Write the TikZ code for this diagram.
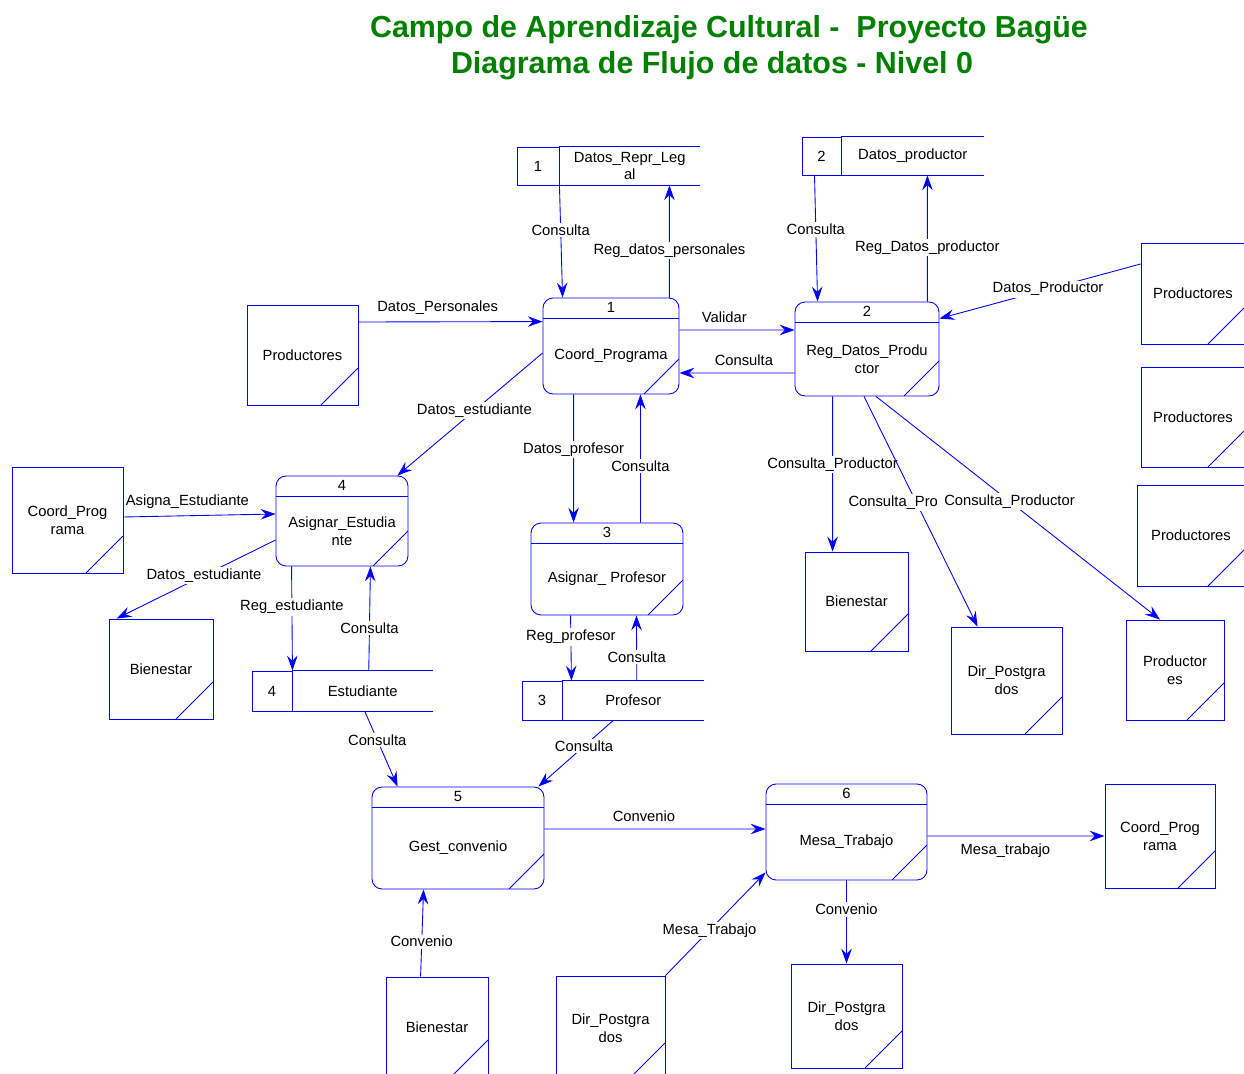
\documentclass[tikz,border=0pt]{standalone}
\usepackage{fontspec}
\setmainfont{Liberation Sans}
\usepackage{tikz}
\usetikzlibrary{arrows, arrows.meta, positioning}

\definecolor{titulo}{RGB}{0,128,0}
\definecolor{linea}{RGB}{0,0,255}

\tikzstyle{process} = [rectangle, rounded corners=0.2cm, draw=linea, line width=0.5pt, inner sep=0pt,
	path picture={\draw[linea, line width=0.5pt] ([yshift=-0.4cm]path picture bounding box.north west) -- ([yshift=-0.4cm]path picture bounding box.north east);
		\draw[linea, line width=0.5pt] ([xshift=-0.7cm]path picture bounding box.south east) -- ([yshift=0.7cm]path picture bounding box.south east);}]
\tikzstyle{entity} = [rectangle, draw=linea, line width=0.5pt, align=center, inner sep=0pt,
	path picture={\draw[linea, line width=0.5pt] ([xshift=-0.74cm]path picture bounding box.south east) -- ([yshift=0.74cm]path picture bounding box.south east);}]
\tikzstyle{storenum} = [rectangle, draw=linea, line width=0.5pt, inner sep=0pt]
\tikzstyle{store} = [rectangle, align=center, inner sep=0pt]
\tikzstyle{arrow} = [linea, line width=0.5pt, ->, >={Stealth[length=8.5pt, width=6pt, inset=3pt]}]
\tikzstyle{lbl} = [fill=white, inner sep=1pt, text=black]

\begin{document}
\begin{tikzpicture}[x=0.02cm, y=-0.02cm, font=\fontsize{8.4}{10.2}\selectfont]
	\useasboundingbox (0,0) rectangle (1244,1074);
	\clip (0,0) rectangle (1244,1074);

	% titulo
	\node (tit1) [font=\fontsize{17.3}{20}\selectfont\bfseries, text=titulo] at (729,30) {Campo de Aprendizaje Cultural - \ Proyecto Bagüe};
	\node (tit2) [font=\fontsize{17.3}{20}\selectfont\bfseries, text=titulo] at (712,66) {Diagrama de Flujo de datos - Nivel 0};

	% almacenes
	\node (ds1n) [storenum, minimum width=0.84cm, minimum height=0.76cm] at (538,166) {1};
	\node (ds1) [store, right=0cm of ds1n, minimum width=2.8cm, minimum height=0.76cm] {Datos\_Repr\_Leg\\al};
	\node (ds2n) [storenum, minimum width=0.78cm, minimum height=0.76cm] at (821.5,156) {2};
	\node (ds2) [store, right=0cm of ds2n, minimum width=2.84cm, minimum height=0.76cm] {Datos\_productor};
	\node (ds4n) [storenum, minimum width=0.8cm, minimum height=0.8cm] at (272,691) {4};
	\node (ds4) [store, right=0cm of ds4n, minimum width=2.8cm, minimum height=0.8cm] {Estudiante};
	\node (ds3n) [storenum, minimum width=0.8cm, minimum height=0.78cm] at (542,700.5) {3};
	\node (ds3) [store, right=0cm of ds3n, minimum width=2.82cm, minimum height=0.78cm] {Profesor};
	\foreach \s in {ds1,ds2,ds3,ds4}
		\draw[linea, line width=0.5pt] (\s.north west) -- (\s.north east) (\s.south west) -- (\s.south east);

	% procesos
	\node (p1) [process, minimum width=2.72cm, minimum height=1.92cm] at (611,346) {};
	\node (p1n) at ([yshift=-0.2cm]p1.north) {1};
	\node (p1t) [align=center] at ([yshift=-0.2cm]p1.center) {Coord\_Programa};
	\node (p2) [process, minimum width=2.88cm, minimum height=1.88cm] at (867,349) {};
	\node (p2n) at ([yshift=-0.2cm]p2.north) {2};
	\node (p2t) [align=center] at ([yshift=-0.2cm]p2.center) {Reg\_Datos\_Produ\\ctor};
	\node (p4) [process, minimum width=2.64cm, minimum height=1.8cm] at (342,521) {};
	\node (p4n) at ([yshift=-0.2cm]p4.north) {4};
	\node (p4t) [align=center] at ([yshift=-0.2cm]p4.center) {Asignar\_Estudia\\nte};
	\node (p3) [process, minimum width=3.04cm, minimum height=1.84cm] at (607,569) {};
	\node (p3n) at ([yshift=-0.2cm]p3.north) {3};
	\node (p3t) [align=center] at ([yshift=-0.2cm]p3.center) {Asignar\_ Profesor};
	\node (p5) [process, minimum width=3.44cm, minimum height=2.04cm] at (458,838) {};
	\node (p5n) at ([yshift=-0.2cm]p5.north) {5};
	\node (p5t) [align=center] at ([yshift=-0.2cm]p5.center) {Gest\_convenio};
	\node (p6) [process, minimum width=3.22cm, minimum height=1.92cm] at (846.5,832) {};
	\node (p6n) at ([yshift=-0.2cm]p6.north) {6};
	\node (p6t) [align=center] at ([yshift=-0.2cm]p6.center) {Mesa\_Trabajo};

	% entidades externas
	\node (prodA) [entity, minimum width=2.22cm, minimum height=2cm] at (302.5,355) {Productores};
	\node (coordA) [entity, minimum width=2.22cm, minimum height=2.12cm] at (67.5,520) {Coord\_Prog\\rama};
	\node (bienA) [entity, minimum width=2.08cm, minimum height=2cm] at (161,669) {Bienestar};
	\node (prodB) [entity, minimum width=2.08cm, minimum height=2.02cm] at (1193,293.5) {Productores};
	\node (prodC) [entity, minimum width=2.08cm, minimum height=2cm] at (1193,417) {Productores};
	\node (prodD) [entity, minimum width=2.16cm, minimum height=2.02cm] at (1191,535.5) {Productores};
	\node (bienB) [entity, minimum width=2.06cm, minimum height=1.98cm] at (856.5,601.5) {Bienestar};
	\node (dirA) [entity, minimum width=2.22cm, minimum height=2.14cm] at (1006.5,680.5) {Dir\_Postgra\\dos};
	\node (prodE) [entity, minimum width=1.96cm, minimum height=2cm] at (1175,670) {Productor\\es};
	\node (coordB) [entity, minimum width=2.2cm, minimum height=2.08cm] at (1160,836) {Coord\_Prog\\rama};
	\node (bienC) [entity, minimum width=2.04cm, minimum height=2cm] at (437,1027) {Bienestar};
	\node (dirB) [entity, minimum width=2.18cm, minimum height=2.08cm] at (610.5,1028) {Dir\_Postgra\\dos};
	\node (dirC) [entity, minimum width=2.22cm, minimum height=2.08cm] at (846.5,1016) {Dir\_Postgra\\dos};

	% flujos
	\draw [arrow] (ds1.south west) -- node[lbl, pos=0.4] {Consulta} ([xshift=0.4cm]p1.north west);
	\draw [arrow] ([xshift=-0.2cm]p1.north east) -- node[lbl, pos=0.42] {Reg\_datos\_personales} ([xshift=2.2cm]ds1.south west);
	\draw [arrow] ([xshift=-0.14cm]ds2n.south) -- node[lbl, pos=0.43] {Consulta} ([xshift=0.46cm]p2.north west);
	\draw [arrow] ([xshift=-0.24cm]p2.north east) -- node[lbl, pos=0.43] {Reg\_Datos\_productor} ([xshift=1.72cm]ds2.south west);
	\draw [arrow] ([yshift=0.66cm]prodA.east) -- node[lbl, above=3pt, pos=0.43] {Datos\_Personales} ([yshift=-0.48cm]p1.north west);
	\draw [arrow] ([yshift=0.32cm]p1.east) -- node[lbl, above=3pt, pos=0.39] {Validar} ([yshift=0.38cm]p2.west);
	\draw [arrow] ([yshift=-0.48cm]p2.west) -- node[lbl, above=3pt, pos=0.44] {Consulta} ([yshift=-0.54cm]p1.east);
	\draw [arrow] ([yshift=0.59cm]prodB.west) -- node[lbl, pos=0.46] {Datos\_Productor} ([yshift=-0.34cm]p2.north east);
	\draw [arrow] ([yshift=-0.14cm]p1.west) -- node[lbl, pos=0.47] {Datos\_estudiante} ([xshift=-0.22cm]p4.north east);
	\draw [arrow] ([yshift=0.06cm]coordA.east) -- node[lbl, above=3pt, pos=0.42] {Asigna\_Estudiante} ([yshift=0.14cm]p4.west);
	\draw [arrow] ([yshift=-0.38cm]p4.west) -- node[lbl, pos=0.45] {Datos\_estudiante} ([xshift=0.16cm]bienA.north west);
	\draw [arrow] ([xshift=0.32cm]p4.south west) -- node[lbl, pos=0.39] {Reg\_estudiante} (ds4n.north east);
	\draw [arrow] ([xshift=0.12cm]ds4.north) -- node[lbl, pos=0.41] {Consulta} ([xshift=-0.76cm]p4.south east);
	\draw [arrow] ([xshift=0.62cm]p1.south west) -- node[lbl, pos=0.43] {Datos\_profesor} ([xshift=0.86cm]p3.north west);
	\draw [arrow] ([xshift=-0.86cm]p3.north east) -- node[lbl, pos=0.44] {Consulta} ([xshift=-0.78cm]p1.south east);
	\draw [arrow] ([xshift=0.8cm]p3.south west) -- node[lbl, pos=0.33] {Reg\_profesor} ([xshift=0.18cm]ds3.north west);
	\draw [arrow] ([xshift=0.07cm]ds3.north) -- node[lbl, pos=0.36] {Consulta} ([xshift=-0.94cm]p3.south east);
	\draw [arrow] ([xshift=0.04cm]ds4.south) -- node[lbl, pos=0.38] {Consulta} ([xshift=0.52cm]p5.north west);
	\draw [arrow] ([xshift=-0.4cm]ds3.south) -- node[lbl, pos=0.39] {Consulta} ([xshift=-0.12cm]p5.north east);
	\draw [arrow] ([xshift=0.76cm]p2.south west) -- node[lbl, pos=0.44] {Consulta\_Productor} ([xshift=0.56cm]bienB.north west);
	\draw [arrow] ([xshift=-0.06cm]p2.south) -- node[lbl, pos=0.46, xshift=-0.46cm] {Consulta\_Pro} ([xshift=0.54cm]dirA.north west);
	\draw [arrow] ([xshift=0.18cm]p2.south) -- node[lbl, pos=0.47] {Consulta\_Productor} ([xshift=-0.3cm]prodE.north);
	\draw [arrow] ([xshift=0.7cm]bienC.north west) -- node[lbl, pos=0.4] {Convenio} ([xshift=1.04cm]p5.south west);
	\draw [arrow] ([yshift=0.18cm]p5.east) -- node[lbl, above=3pt, pos=0.45] {Convenio} ([yshift=0.06cm]p6.west);
	\draw [arrow] (dirB.north east) -- node[lbl, pos=0.44] {Mesa\_Trabajo} ([yshift=0.16cm]p6.south west);
	\draw [arrow] ([yshift=-0.08cm]p6.east) -- node[lbl, below=3pt, pos=0.44] {Mesa\_trabajo} (coordB.west);
	\draw [arrow] (p6.south) -- node[lbl, pos=0.35] {Convenio} (dirC.north);
\end{tikzpicture}
\end{document}
